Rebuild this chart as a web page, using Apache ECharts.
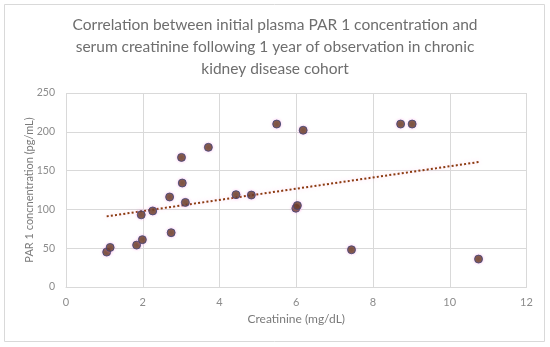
<!DOCTYPE html>
<html><head><meta charset="utf-8">
<script src="https://cdn.jsdelivr.net/npm/echarts@6/dist/echarts.min.js"></script>
<style>html,body{margin:0;padding:0;background:#fff}#c{width:550px;height:347px}</style>
</head><body><div id="c"></div>
<script>
const creatinine = [1.06,1.15,1.84,1.99,1.96,2.26,2.74,2.70,3.01,3.03,3.11,3.71,4.43,4.83,5.49,6.18,8.72,9.02,5.99,6.03,7.44,10.75];
const par1 = [45,51,54,61,93,98,70,116,167,134,109,180,119,118.5,210,202,210,210,101.5,105,48,36];
const trendX = [1.06,10.75];
const trendY = [91,161];
const xTicks = [0,2,4,6,8,10,12];
const yTicks = [0,50,100,150,200,250];
const titleLines = ['Correlation between initial plasma PAR 1 concentration and','serum creatinine following 1 year of observation in chronic','kidney disease cohort'];

const chart = echarts.init(document.getElementById('c'), null, {renderer:'canvas'});
const font = "Lato, sans-serif";
chart.setOption({
  animation:false,
  graphic:[{type:'rect',shape:{x:4.5,y:4.5,width:540,height:337},style:{fill:'none',stroke:'#d9d9d9',lineWidth:1}}]
    .concat(titleLines.map((t,i)=>({type:'text',x:275,y:25+i*22,style:{text:t,textAlign:'center',textVerticalAlign:'middle',font:"15.5px Lato, sans-serif",fill:'#6e6e6e'}}))),
  grid:{left:66,right:23.5,top:93,bottom:60},
  xAxis:{type:'value',min:0,max:12,interval:2,
    name:'Creatinine (mg/dL)',nameLocation:'middle',nameGap:26,
    nameTextStyle:{fontFamily:font,fontSize:12,color:'#7a7a7a'},
    axisLine:{show:true,lineStyle:{color:'#d9d9d9'}},axisTick:{show:false},
    axisLabel:{fontFamily:font,fontSize:11,color:'#8c8c8c',margin:10,formatter:v=>xTicks.includes(v)?String(v):''},
    splitLine:{show:true,lineStyle:{color:'#d9d9d9'}}},
  yAxis:{type:'value',min:0,max:250,interval:50,
    name:'PAR 1 concnentration (pg/mL)',nameLocation:'middle',nameGap:31,nameMoveOverlap:false,
    nameTextStyle:{fontFamily:font,fontSize:11,color:'#7a7a7a'},
    axisLine:{show:false},axisTick:{show:false},
    axisLabel:{fontFamily:font,fontSize:10.5,color:'#8c8c8c',margin:11,formatter:v=>yTicks.includes(v)?String(v):''},
    splitLine:{show:true,lineStyle:{color:'#d9d9d9'}}},
  series:[
    {type:'line',data:trendX.map((x,i)=>[x,trendY[i]]),symbol:'none',z:3,
     lineStyle:{color:'#8b3a0f',width:2,type:[2,2.2],shadowColor:'rgba(255,150,220,0.45)',shadowBlur:4}},
    {type:'scatter',data:creatinine.map((x,i)=>[x,par1[i]]),symbol:'circle',symbolSize:8,z:4,
     itemStyle:{color:'#5a3614',borderColor:'#3c4578',borderWidth:1,shadowColor:'rgba(255,120,220,0.45)',shadowBlur:3}}
  ]
});
</script></body></html>
